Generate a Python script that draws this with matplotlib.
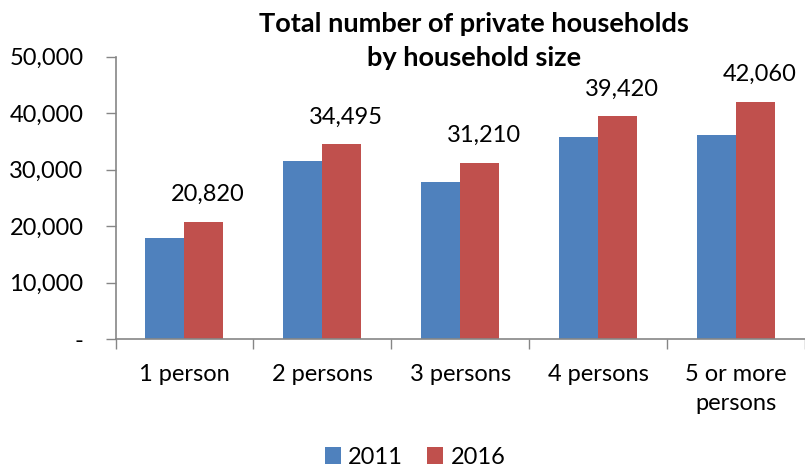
import numpy as np
import matplotlib
matplotlib.use('Agg')
import matplotlib.pyplot as plt
from matplotlib.ticker import FuncFormatter, FixedLocator

# data
categories = ['1 person', '2 persons', '3 persons', '4 persons', '5 or more\npersons']
households_2011 = [18000, 31500, 27800, 35800, 36200]
households_2016 = [20820, 34495, 31210, 39420, 42060]
years = ['2011', '2016']

plt.rcParams['font.family'] = ['Lato', 'DejaVu Sans']

blue = '#4F81BD'
red = '#C0504D'
axis_grey = '#868686'

fig = plt.figure(figsize=(8.05, 4.72), dpi=100)
ax = fig.add_axes([0.1435, 0.281, 0.8565, 0.599])

x = np.arange(len(categories))
w = 0.283
b1 = ax.bar(x - w/2, households_2011, w, color=blue, label=years[0])
b2 = ax.bar(x + w/2, households_2016, w, color=red, label=years[1])

# labels only on the 2016 bars
for rect, v in zip(b2, households_2016):
    ax.annotate(f'{v:,}', (rect.get_x() + rect.get_width()/2, v),
                xytext=(3, 12), textcoords='offset points',
                ha='center', va='bottom', fontsize=17)

ax.set_xlim(-0.5, len(categories) - 0.5)
ax.set_ylim(0, 50000)
ax.set_yticks(range(0, 50001, 10000))
ax.yaxis.set_major_formatter(FuncFormatter(lambda v, p: '-' if v == 0 else f'{int(v):,}'))

# category boundaries carry the tick marks, centres carry the labels
ax.xaxis.set_major_locator(FixedLocator(np.arange(-0.5, len(categories), 1.0)))
ax.xaxis.set_major_formatter(FuncFormatter(lambda v, p: ''))
ax.xaxis.set_minor_locator(FixedLocator(x))
ax.set_xticklabels(categories, minor=True, linespacing=1.45)
ax.tick_params(axis='x', which='major', length=7, color=axis_grey, width=1)
ax.tick_params(axis='x', which='minor', length=0, pad=18, labelsize=17)
ax.tick_params(axis='y', length=7, color=axis_grey, width=1, pad=16, labelsize=17)

for s in ['top', 'right']:
    ax.spines[s].set_visible(False)
for s in ['left', 'bottom']:
    ax.spines[s].set_color(axis_grey)
    ax.spines[s].set_linewidth(1.2)

fig.text(0.589, 0.914, 'Total number of private households\nby household size',
         ha='center', va='center', fontsize=19.5, fontweight='bold', linespacing=1.5)

fig.legend(handles=[b1, b2], loc='center', bbox_to_anchor=(415/805, 1 - 457/472),
           ncol=2, frameon=False, fontsize=17, handlelength=0.7, handleheight=0.7,
           handletextpad=0.3, columnspacing=1.0)

fig.savefig('out.png', dpi=100)
